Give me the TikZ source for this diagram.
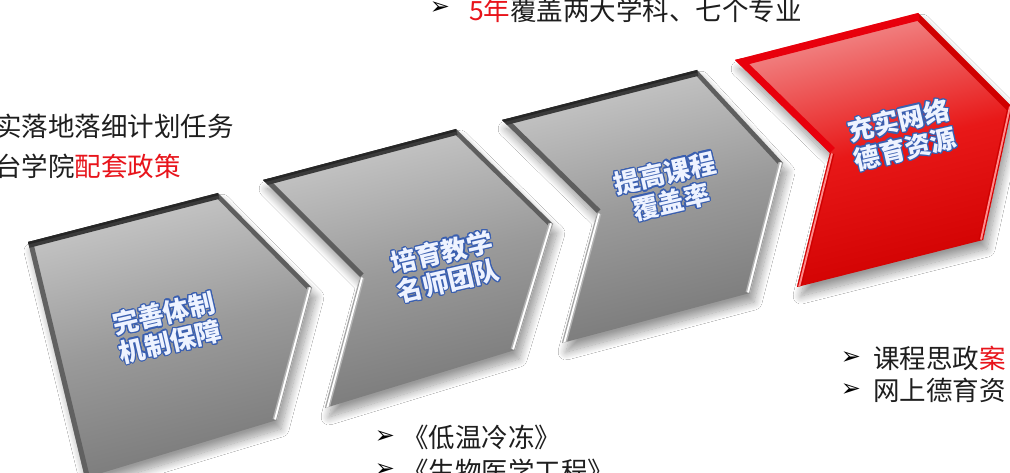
\documentclass[tikz,border=0pt]{standalone}
\usepackage{fontspec}
\setmainfont{Noto Sans CJK SC}
\newfontfamily\arrowfont{DejaVu Sans}
\usepackage{contour}
\contourlength{1.2pt}
\contournumber{16}
\usetikzlibrary{shadows.blur}
\definecolor{txtblue}{HTML}{3A5FB0}
\definecolor{txtfill}{HTML}{EEF3FF}
\definecolor{redtxt}{HTML}{E8141B}
\definecolor{txtblack}{HTML}{1E1E1E}
\definecolor{gtop}{HTML}{C8C8C8}
\definecolor{gmid}{HTML}{9A9A9A}
\definecolor{gbot}{HTML}{787878}
\definecolor{gdark}{HTML}{3A3A3A}
\definecolor{gedge}{HTML}{5E5E5E}
\definecolor{rtop}{HTML}{F29090}
\definecolor{rmid}{HTML}{E81818}
\definecolor{rbot}{HTML}{D00000}
\definecolor{rbevel}{HTML}{E8000C}
\definecolor{redge}{HTML}{D00000}
\definecolor{rhigh}{HTML}{FF8C8C}
\tikzset{
  shshadow/.style={blur shadow={shadow xshift=4pt, shadow yshift=-9pt, shadow blur radius=8pt, shadow opacity=40, shadow blur steps=14}},
  grayfill/.style={top color=gtop, bottom color=gbot, middle color=gmid, shading angle=14},
  redfill/.style={top color=rtop, bottom color=rbot, middle color=rmid, shading angle=14},
  shapetext/.style={align=center, font=\bfseries\fontsize{26}{29}\selectfont, text=txtfill, rotate=13, inner sep=0pt},
  plaintext/.style={font=\fontsize{26.5}{30}\selectfont, text=txtblack, anchor=west, inner sep=0pt},
  bullet/.style={font=\arrowfont\fontsize{24}{24}\selectfont, text=black, inner sep=0pt},
}
\begin{document}
\begin{tikzpicture}[x=1pt,y=-1pt]
\useasboundingbox (0,0) rectangle (1010,473);
\clip (0,0) rectangle (1010,473);
\fill[white] (0,0) rectangle (1010,473);

% shape 1 (pentagon)
\coordinate (a1) at (28,242); \coordinate (b1) at (218,193); \coordinate (c1) at (312,288);
\coordinate (d1) at (277,420); \coordinate (e1) at (85,478);
% shape 2
\coordinate (a2) at (263,180); \coordinate (b2) at (456,129); \coordinate (c2) at (553,224);
\coordinate (d2) at (515,350); \coordinate (e2) at (325,408); \coordinate (n2) at (360,277);
% shape 3
\coordinate (a3) at (502,120); \coordinate (b3) at (697,70); \coordinate (c3) at (783,163);
\coordinate (d3) at (750,293); \coordinate (e3) at (562,343); \coordinate (n3) at (597,213);
% shape 4 (red)
\coordinate (a4) at (735,60); \coordinate (b4) at (918,13); \coordinate (c4) at (1012,107);
\coordinate (d4) at (983,240); \coordinate (e4) at (797,287); \coordinate (n4) at (830,153);

% ---- shape 1
\path[shshadow, grayfill] (a1) -- (b1) -- (c1) -- (d1) -- (e1) -- cycle;
\begin{scope}
  \clip (a1) -- (b1) -- (c1) -- (d1) -- (e1) -- cycle;
  \draw[line width=9pt, gedge] (b1) -- (c1);
  \draw[line width=10pt, gdark!80] (a1) -- (e1);
  \draw[line width=12pt, gdark] (a1) -- (b1);
  \draw[line width=5pt, black!85] (a1) -- (b1);
  \draw[line width=9pt, gray!60] (c1) -- (d1);
  \draw[line width=6pt, white] (c1) -- (d1);
  \draw[line width=2pt, gray!75] (c1) -- (d1);
\end{scope}

% ---- shape 2
\path[shshadow, grayfill] (a2) -- (b2) -- (c2) -- (d2) -- (e2) -- (n2) -- cycle;
\begin{scope}
  \clip (a2) -- (b2) -- (c2) -- (d2) -- (e2) -- (n2) -- cycle;
  \draw[line width=9pt, gedge] (b2) -- (c2);
  \draw[line width=10pt, gedge] (a2) -- (n2);
  \draw[line width=12pt, gdark] (a2) -- (b2);
  \draw[line width=5pt, black!85] (a2) -- (b2);
  \draw[line width=9pt, gray!60] (c2) -- (d2);
  \draw[line width=6pt, white] (c2) -- (d2);
  \draw[line width=2pt, gray!75] (c2) -- (d2);
  \draw[line width=9pt, gray!60] (n2) -- (e2);
  \draw[line width=6pt, white] (n2) -- (e2);
  \draw[line width=2pt, gray!75] (n2) -- (e2);
\end{scope}

% ---- shape 3
\path[shshadow, grayfill] (a3) -- (b3) -- (c3) -- (d3) -- (e3) -- (n3) -- cycle;
\begin{scope}
  \clip (a3) -- (b3) -- (c3) -- (d3) -- (e3) -- (n3) -- cycle;
  \draw[line width=9pt, gedge] (b3) -- (c3);
  \draw[line width=10pt, gedge] (a3) -- (n3);
  \draw[line width=12pt, gdark] (a3) -- (b3);
  \draw[line width=5pt, black!85] (a3) -- (b3);
  \draw[line width=9pt, gray!60] (c3) -- (d3);
  \draw[line width=6pt, white] (c3) -- (d3);
  \draw[line width=2pt, gray!75] (c3) -- (d3);
  \draw[line width=9pt, gray!60] (n3) -- (e3);
  \draw[line width=6pt, white] (n3) -- (e3);
  \draw[line width=2pt, gray!75] (n3) -- (e3);
\end{scope}

% ---- shape 4 (red)
\path[shshadow, redfill] (a4) -- (b4) -- (c4) -- (d4) -- (e4) -- (n4) -- cycle;
\begin{scope}
  \clip (a4) -- (b4) -- (c4) -- (d4) -- (e4) -- (n4) -- cycle;
  \draw[line width=12pt, redge] (b4) -- (c4);
  \draw[line width=14pt, rbevel] (a4) -- (n4);
  \draw[line width=15pt, rbevel] (a4) -- (b4);
  \draw[line width=9pt, redge] (c4) -- (d4);
  \draw[line width=6pt, rhigh] (c4) -- (d4);
  \draw[line width=2pt, redge] (c4) -- (d4);
  \draw[line width=9pt, redge] (n4) -- (e4);
  \draw[line width=6pt, rhigh] (n4) -- (e4);
  \draw[line width=2pt, redge] (n4) -- (e4);
\end{scope}

% ---- texts on shapes
\node[shapetext] (t1) at (167,328) {\contour{txtblue}{完善体制}\\\contour{txtblue}{机制保障}};
\node[shapetext] (t2) at (445,267) {\contour{txtblue}{培育教学}\\\contour{txtblue}{名师团队}};
\node[shapetext] (t3) at (668,188) {\contour{txtblue}{提高课程}\\\contour{txtblue}{覆盖率}};
\node[shapetext] (t4) at (902,135) {\contour{txtblue}{充实网络}\\\contour{txtblue}{德育资源}};

% ---- outside texts
\node[bullet] (tb) at (440,8) {➢};
\node[plaintext] (tt) at (469,10) {\textcolor{redtxt}{5年}覆盖两大学科、七个专业};

\node[plaintext] (l1) at (-5,126) {实落地落细计划任务};
\node[plaintext] (l2) at (-5,166) {台学院\textcolor{redtxt}{配套政策}};

\node[bullet] (bb1) at (385,437) {➢};
\node[plaintext] (bt1) at (402,437) {《低温冷冻》};
\node[bullet] (bb2) at (385,470) {➢};
\node[plaintext] (bt2) at (402,471) {《生物医学工程》};

\node[bullet] (rb1) at (851,358) {➢};
\node[plaintext] (rt1) at (873,358) {课程思政\textcolor{redtxt}{案}};
\node[bullet] (rb2) at (851,390) {➢};
\node[plaintext] (rt2) at (873,390) {网上德育资};
\end{tikzpicture}
\end{document}
